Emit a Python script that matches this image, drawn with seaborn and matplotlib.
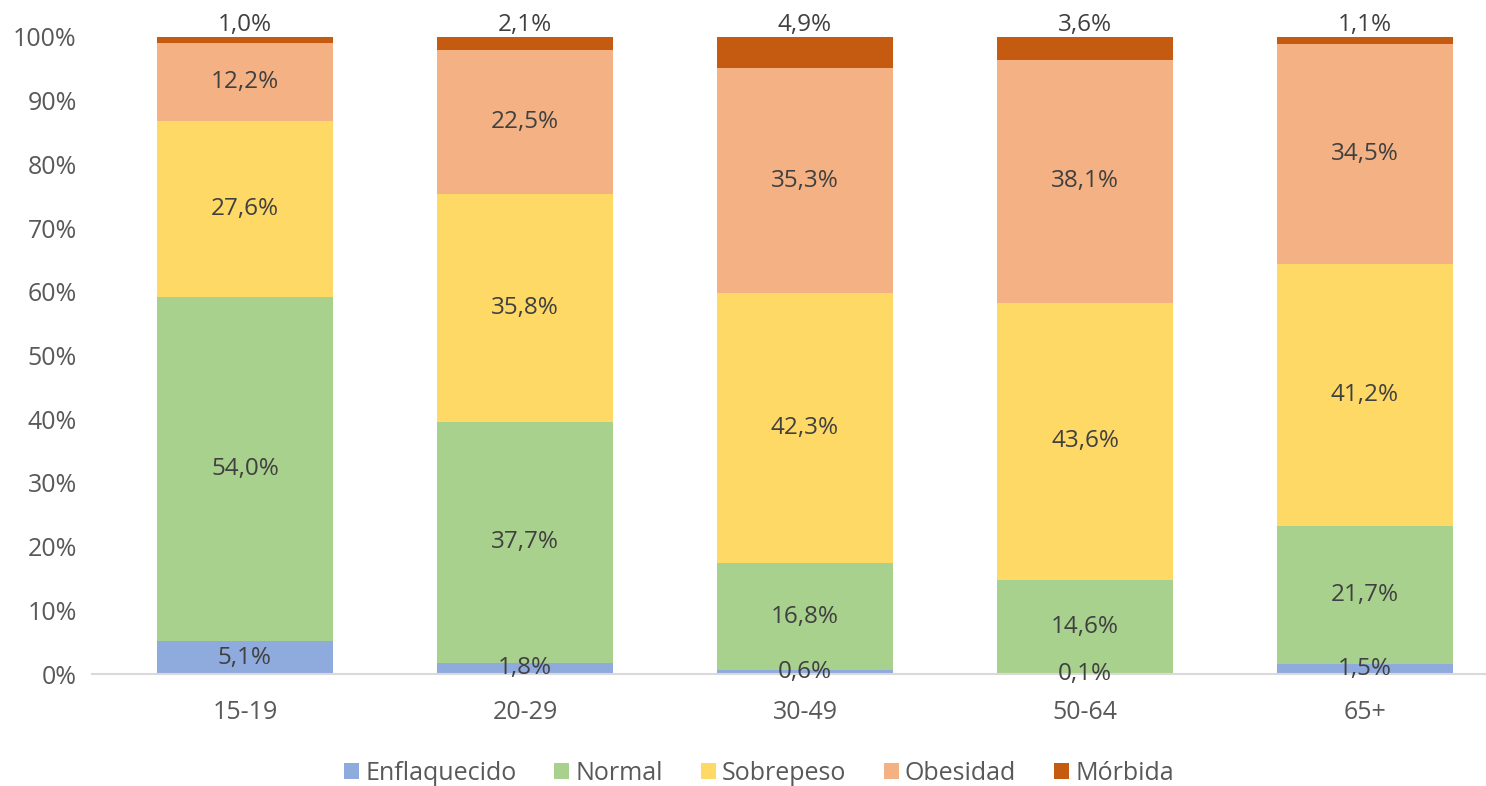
import numpy as np
import matplotlib
matplotlib.use('Agg')
import matplotlib.pyplot as plt
import seaborn as sns

# data (percent per age group)
grupos = ['15-19', '20-29', '30-49', '50-64', '65+']
enflaquecido = [5.1, 1.8, 0.6, 0.1, 1.5]
normal = [54.0, 37.7, 16.8, 14.6, 21.7]
sobrepeso = [27.6, 35.8, 42.3, 43.6, 41.2]
obesidad = [12.2, 22.5, 35.3, 38.1, 34.5]
morbida = [1.0, 2.1, 4.9, 3.6, 1.1]

series = ['Enflaquecido', 'Normal', 'Sobrepeso', 'Obesidad', 'Mórbida']
valores = [enflaquecido, normal, sobrepeso, obesidad, morbida]
colores = ['#8FAADC', '#A9D18E', '#FFD966', '#F4B183', '#C55A11']

sns.set_style('white')
plt.rcParams['font.family'] = ['Open Sans', 'DejaVu Sans']

fig = plt.figure(figsize=(14.86, 7.86), dpi=100)
ax = fig.add_axes([92 / 1486, 1 - 674 / 786, 1 - 92 / 1486, (674 - 37) / 786])

# stack as 100% (each group normalised to its total)
tabla = np.array(valores)
totales = tabla.sum(axis=0)
base = np.zeros(len(grupos))
for nombre, vals, col in zip(series, valores, colores):
    alto = np.array(vals) / totales
    sns.barplot(x=grupos, y=alto, bottom=base, color=col, width=0.63,
                label=nombre, ax=ax, saturation=1, linewidth=0)
    for i, v in enumerate(vals):
        txt = f'{v:.1f}%'.replace('.', ',')
        if nombre == 'Mórbida':
            ax.annotate(txt, (i, 1.0), xytext=(0, 4), textcoords='offset points',
                        ha='center', va='baseline', fontsize=17.5, color='#404040')
        else:
            ax.text(i, base[i] + alto[i] / 2, txt, ha='center', va='center',
                    fontsize=17.5, color='#404040')
    base = base + alto

ax.set_ylim(0, 1)
ax.set_xlim(-153 / 280, 1241 / 280)
ax.set_yticks(np.arange(0, 1.01, 0.1))
ax.set_yticklabels([f'{int(round(t * 100))}%' for t in np.arange(0, 1.01, 0.1)])
ax.tick_params(axis='y', length=0, pad=11, labelsize=18, labelcolor='#595959')
ax.tick_params(axis='x', length=0, pad=19, labelsize=18, labelcolor='#595959')
ax.set_xlabel('')
ax.set_ylabel('')
for s in ['top', 'right', 'left']:
    ax.spines[s].set_visible(False)
ax.spines['bottom'].set_color('#D9D9D9')
ax.spines['bottom'].set_linewidth(1.5)

leg = ax.legend(loc='center', bbox_to_anchor=(0.5 - 30 / 1394, -(773 - 674) / 637),
                ncol=5, frameon=False, fontsize=18, handlelength=0.6, handleheight=0.6,
                handletextpad=0.25, columnspacing=1.5)
for t in leg.get_texts():
    t.set_color('#595959')

fig.savefig('out.png', dpi=100)
